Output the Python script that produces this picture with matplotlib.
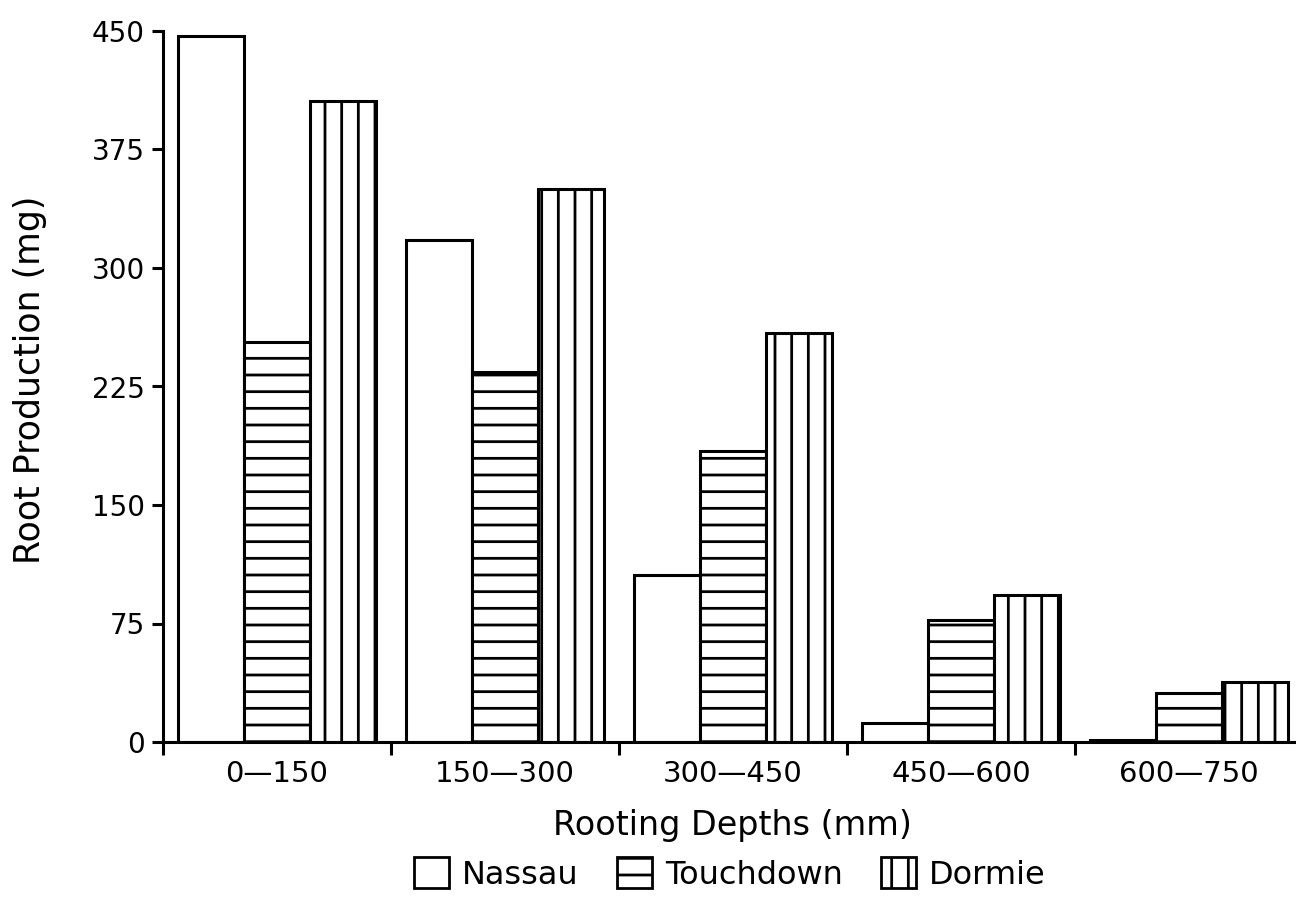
import numpy as np
import matplotlib
matplotlib.use("Agg")
import matplotlib.pyplot as plt
from matplotlib.patches import Patch

# data
depths = ["0—150", "150—300", "300—450", "450—600", "600—750"]
nassau = [447, 318, 106, 12, 1]
touchdown = [253, 234, 184, 77, 31]
dormie = [406, 350, 259, 93, 38]
series_names = ["Nassau", "Touchdown", "Dormie"]
y_ticks = [0, 75, 150, 225, 300, 375, 450]

plt.rcParams["font.family"] = "DejaVu Sans"
plt.rcParams["hatch.linewidth"] = 2.0
plt.rcParams["hatch.color"] = "black"

W, H = 1296, 897
fig = plt.figure(figsize=(W / 100, H / 100), dpi=100)
ax = fig.add_axes([163 / W, 155 / H, (W - 163) / W, 711 / H])

x = np.arange(len(depths))
w = 0.29
hatches = ["", "-", "|"]
for k, vals in enumerate([nassau, touchdown, dormie]):
    ax.bar(x + (k - 1) * w, vals, width=w, color="white", edgecolor="black",
           linewidth=2.2, hatch=hatches[k], label=series_names[k], zorder=2)

ax.set_xlim(-0.5, 4.47)
ax.set_ylim(0, 450)
ax.set_yticks(y_ticks)
ax.set_xticks(x)
ax.set_xticklabels(depths, fontsize=21)
ax.set_xticks(np.arange(-0.5, 4.5, 1.0), minor=True)
ax.tick_params(axis="x", which="major", length=0, pad=13)
ax.tick_params(axis="x", which="minor", length=9.5, width=2.2, direction="out")
ax.tick_params(axis="y", length=8, width=2.2, pad=5, labelsize=20)

for s in ["top", "right"]:
    ax.spines[s].set_visible(False)
for s in ["left", "bottom"]:
    ax.spines[s].set_linewidth(2.2)

# axis titles placed in figure pixels to match the reference
fig.text(30 / W, 1 - 380 / H, "Root Production (mg)", rotation=90,
         ha="center", va="center", fontsize=25)
fig.text(732 / W, 1 - 835 / H, "Rooting Depths (mm)",
         ha="center", va="baseline", fontsize=24)

handles = [Patch(facecolor="white", edgecolor="black", linewidth=2.0, hatch=h)
           for h in hatches]
fig.legend(handles, series_names, loc="center", bbox_to_anchor=(730 / W, 1 - 874 / H),
           ncol=3, frameon=False, fontsize=23, handlelength=1.1, handleheight=1.1,
           handletextpad=0.4, columnspacing=1.2, borderpad=0, borderaxespad=0)

fig.savefig("out.png", dpi=100)
